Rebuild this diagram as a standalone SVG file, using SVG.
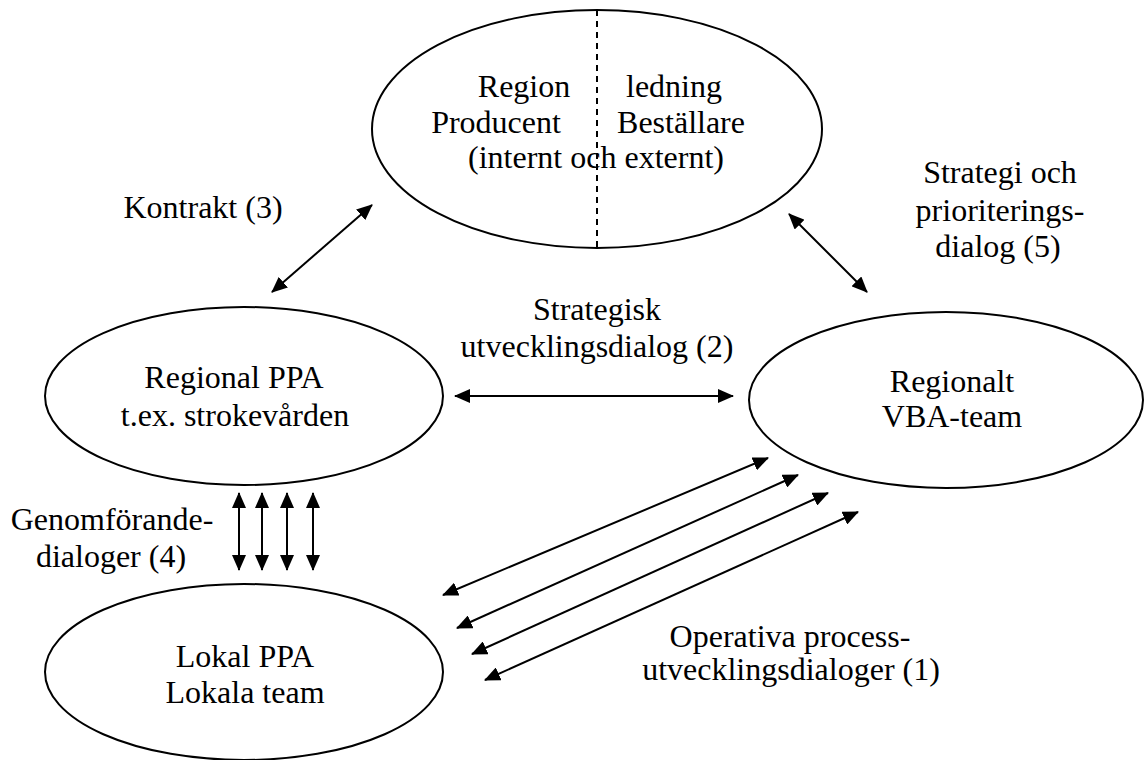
<svg xmlns="http://www.w3.org/2000/svg" width="1144" height="760" viewBox="0 0 1144 760">
<style>
.node{fill:#fff;stroke:#000;stroke-width:2}
.t{font-family:"Liberation Serif","Times New Roman",serif;font-size:32px;fill:#000;text-anchor:middle}
.c{stroke:#000;stroke-width:2;fill:none;marker-start:url(#ah);marker-end:url(#ah)}
</style>
<defs>
<marker id="ah" markerUnits="userSpaceOnUse" markerWidth="16" markerHeight="14" refX="15" refY="7" orient="auto-start-reverse" viewBox="0 0 16 14">
<path d="M0,0 L16,7 L0,14 z" fill="#000"/>
</marker>
</defs>
<rect width="1144" height="760" fill="#fff"/>
<g id="region-ledning">
<ellipse class="node" cx="597" cy="129" rx="225" ry="119"/>
<line x1="597" y1="10" x2="597" y2="248" stroke="#000" stroke-width="2" stroke-dasharray="6,5"/>
<text class="t" x="524" y="97">Region</text>
<text class="t" x="674" y="97">ledning</text>
<text class="t" x="496" y="133">Producent</text>
<text class="t" x="681" y="133">Beställare</text>
<text class="t" x="596" y="168">(internt och externt)</text>
</g>
<g id="regional-ppa">
<ellipse class="node" cx="244" cy="396" rx="199" ry="89"/>
<text class="t" x="234" y="388">Regional PPA</text>
<text class="t" x="235" y="426">t.ex. strokevården</text>
</g>
<g id="regionalt-vba">
<ellipse class="node" cx="946" cy="400" rx="197" ry="88"/>
<text class="t" x="952" y="392">Regionalt</text>
<text class="t" x="952" y="427">VBA-team</text>
</g>
<g id="lokal-ppa">
<ellipse class="node" cx="244" cy="672" rx="199" ry="88"/>
<text class="t" x="245" y="667">Lokal PPA</text>
<text class="t" x="245" y="703">Lokala team</text>
</g>
<g id="connectors">
<line class="c" x1="372" y1="205" x2="272" y2="292"/>
<line class="c" x1="789" y1="214" x2="867" y2="292"/>
<line class="c" x1="455" y1="396" x2="733" y2="396"/>
<line class="c" x1="239" y1="493" x2="239" y2="570"/>
<line class="c" x1="262" y1="493" x2="262" y2="570"/>
<line class="c" x1="287" y1="493" x2="287" y2="570"/>
<line class="c" x1="313" y1="493" x2="313" y2="570"/>
<line class="c" x1="443" y1="595" x2="768" y2="458"/>
<line class="c" x1="457" y1="628" x2="798" y2="475"/>
<line class="c" x1="472" y1="654" x2="828" y2="493"/>
<line class="c" x1="485" y1="680" x2="858" y2="512"/>
</g>
<g id="labels">
<text class="t" x="203" y="218">Kontrakt (3)</text>
<text class="t" x="597" y="320">Strategisk</text>
<text class="t" x="597" y="357">utvecklingsdialog (2)</text>
<text class="t" x="1000" y="183">Strategi och</text>
<text class="t" x="1000" y="221">prioriterings-</text>
<text class="t" x="998" y="257">dialog (5)</text>
<text class="t" x="112" y="530">Genomförande-</text>
<text class="t" x="111" y="567">dialoger (4)</text>
<text class="t" x="790" y="647">Operativa process-</text>
<text class="t" x="791" y="680">utvecklingsdialoger (1)</text>
</g>
</svg>
